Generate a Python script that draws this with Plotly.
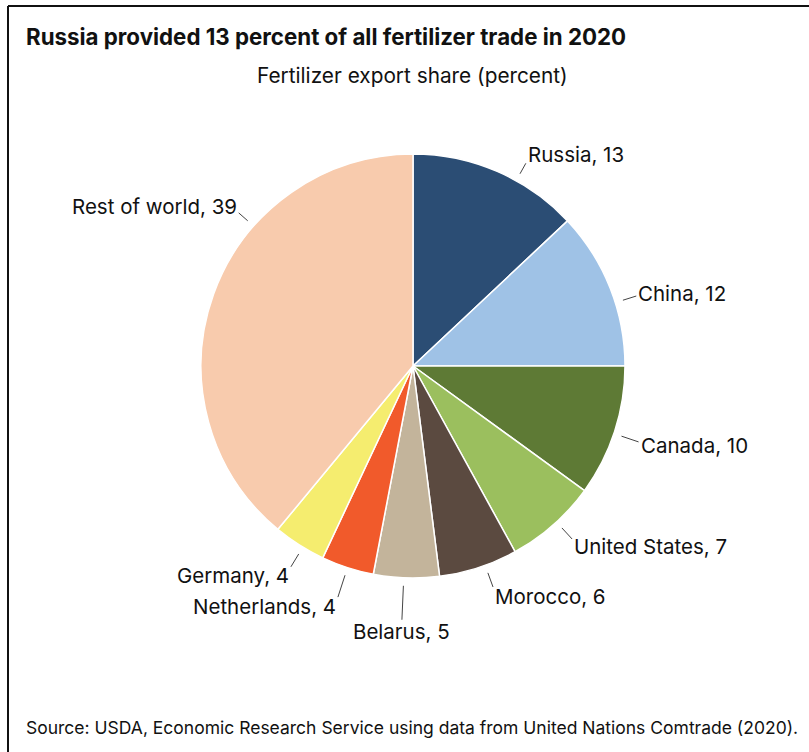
import math
import plotly.graph_objects as go

countries = ["Russia", "China", "Canada", "United States", "Morocco", "Belarus",
             "Netherlands", "Germany", "Rest of world"]
shares = [13, 12, 10, 7, 6, 5, 4, 4, 39]
colors = ["#2b4d74", "#9fc2e6", "#5e7a35", "#9bbf5e", "#5b4a40", "#c3b49b",
          "#f15a2b", "#f5ed6f", "#f8cbad"]

title = "Russia provided 13 percent of all fertilizer trade in 2020"
subtitle = "Fertilizer export share (percent)"
source = "Source: USDA, Economic Research Service using data from United Nations Comtrade (2020)."

# ---- layout / style constants (pixels) ----
W, H = 809, 752
FONT = "Inter"
CX, CY, R = 413, 366, 212          # pie centre and radius in screen pixels
LINE_START = R + 8                  # leader line start radius
# label placement styling: angular nudge (deg) and leader end radius (px)
label_nudge = [5.7, 4.2, 0.6, -1.2, -1.9, 0.7, 0.0, -1.1, 21.5]
label_radius = [232, 234, 238, 235, 235, 254, 243, 235, 232]


def px(x):
    return x / W


def py(y):
    return 1 - y / H


fig = go.Figure(go.Pie(
    labels=countries,
    values=shares,
    sort=False,
    direction="clockwise",
    rotation=0,
    marker=dict(colors=colors, line=dict(color="white", width=1.5)),
    textinfo="none",
    showlegend=False,
    hoverinfo="label+value",
    domain=dict(x=[px(CX - R), px(CX + R)], y=[py(CY + R), py(CY - R)]),
))

# leader lines and labels, placed at each slice's mid angle
total = sum(shares)
shapes = []
annotations = []
cum = 0
for i, (name, v) in enumerate(zip(countries, shares)):
    mid = (cum + v / 2) / total * 360
    cum += v
    a = math.radians(mid + label_nudge[i])
    s, c = math.sin(a), math.cos(a)
    x0, y0 = CX + LINE_START * s, CY - LINE_START * c
    x1, y1 = CX + label_radius[i] * s, CY - label_radius[i] * c
    shapes.append(dict(type="line", xref="paper", yref="paper",
                       x0=px(x0), y0=py(y0), x1=px(x1), y1=py(y1),
                       line=dict(color="#444444", width=1)))
    if s > 0.3:
        xa = "left"
    elif s < -0.3:
        xa = "right"
    else:
        xa = "center"
    yshift = 10 * c if xa != "center" else 12 * c
    annotations.append(dict(text=f"{name}, {v}", x=px(x1), y=py(y1),
                            xref="paper", yref="paper", xanchor=xa, yanchor="middle",
                            yshift=yshift, showarrow=False,
                            font=dict(family=FONT, size=20.5, color="#111111")))

annotations += [
    dict(text="<b>" + title + "</b>", x=px(24), y=py(37), xref="paper", yref="paper",
         xanchor="left", yanchor="middle", showarrow=False,
         font=dict(family=FONT, size=22.3, color="#111111")),
    dict(text=subtitle, x=px(413), y=py(75), xref="paper", yref="paper",
         xanchor="center", yanchor="middle", showarrow=False,
         font=dict(family=FONT, size=20.8, color="#111111")),
    dict(text=source, x=px(24), y=py(727), xref="paper", yref="paper",
         xanchor="left", yanchor="middle", showarrow=False,
         font=dict(family=FONT, size=17.5, color="#111111")),
]

shapes += [
    dict(type="line", xref="paper", yref="paper", x0=px(8), x1=1, y0=py(6), y1=py(6),
         line=dict(color="#111111", width=2)),
    dict(type="line", xref="paper", yref="paper", x0=px(8), x1=px(8), y0=0, y1=py(6),
         line=dict(color="#111111", width=2)),
]

fig.update_layout(
    width=W, height=H,
    margin=dict(l=0, r=0, t=0, b=0),
    paper_bgcolor="white",
    plot_bgcolor="white",
    font=dict(family=FONT, color="#111111"),
    annotations=annotations,
    shapes=shapes,
)

fig.write_html("out.html")
